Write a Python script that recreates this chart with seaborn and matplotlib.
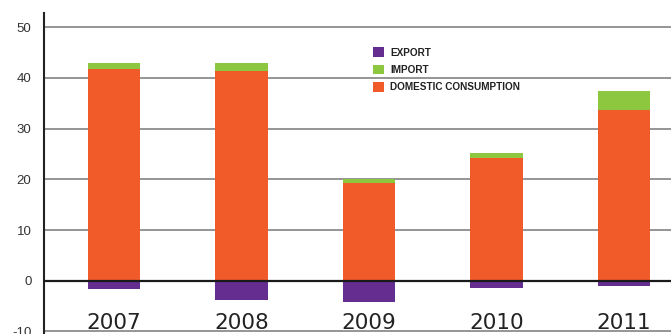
import matplotlib
matplotlib.use("Agg")
import matplotlib.pyplot as plt
import seaborn as sns
import pandas as pd
from matplotlib.patches import Patch

years = ["2007", "2008", "2009", "2010", "2011"]
domestic = [41.8, 41.4, 19.2, 24.3, 33.7]
imports = [1.2, 1.6, 0.8, 0.8, 3.7]
exports = [-1.7, -3.8, -4.1, -1.5, -1.0]
yticks = [-10, 0, 10, 20, 30, 40, 50]
legend_labels = ["EXPORT", "IMPORT", "DOMESTIC CONSUMPTION"]

c_exp = "#652D90"
c_imp = "#8DC63F"
c_dom = "#F15A29"

sns.set_theme(style="white")
plt.rcParams['font.family'] = ['Liberation Sans', 'DejaVu Sans']

df = pd.DataFrame({"year": years, "domestic": domestic, "imports": imports, "exports": exports})

fig = plt.figure(figsize=(6.71, 3.34), dpi=100)
ax = fig.add_axes([44/671, 0, 1 - 44/671, 1 - 13/334])

ax.set_axisbelow(True)
for t in yticks:
    if t != 0:
        ax.axhline(t, color="#8c8c8c", lw=1.3, zorder=0)

w = 0.41
kw = dict(width=w, ax=ax, saturation=1, zorder=2, linewidth=0, edgecolor="none")
sns.barplot(data=df, x="year", y="domestic", color=c_dom, **kw)
sns.barplot(data=df, x="year", y="imports", bottom=df["domestic"], color=c_imp, **kw)
sns.barplot(data=df, x="year", y="exports", color=c_exp, **kw)

ax.axhline(0, color="#1a1a1a", lw=1.6, zorder=3)

ax.set_xlim(-0.55, 4.37)
ax.set_ylim(-10.5, 52.8)
ax.set_yticks(yticks)
ax.set_yticklabels([str(t) for t in yticks], fontsize=9.5, color="#333333")
ax.tick_params(axis="y", length=0, pad=9)
ax.set_xticks([])
ax.set_xlabel("")
ax.set_ylabel("")

for s in ["top", "right", "bottom"]:
    ax.spines[s].set_visible(False)
ax.spines["left"].set_color("#222222")
ax.spines["left"].set_linewidth(1.5)

for i, y in enumerate(years):
    ax.text(i, -9.5, y, ha="center", va="baseline", fontsize=15.5, color="#222222",
            family="DejaVu Sans")

handles = [Patch(facecolor=c, edgecolor="none") for c in [c_exp, c_imp, c_dom]]
fig.legend(handles, legend_labels, loc="upper left", bbox_to_anchor=(373/671, 1 - 47.5/334),
           frameon=False, prop={"weight": "bold", "size": 7.2},
           handlelength=1.1, handleheight=1.1, handletextpad=0.6, labelspacing=0.72,
           borderpad=0, borderaxespad=0, labelcolor="#222222")

fig.savefig("out.png", dpi=100)
